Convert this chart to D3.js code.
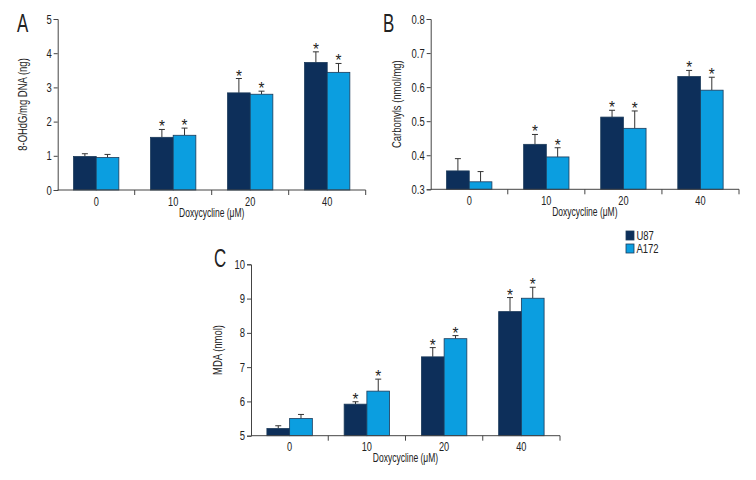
<!DOCTYPE html>
<html><head><meta charset="utf-8">
<script src="https://cdn.jsdelivr.net/npm/d3@7"></script>
<style>
body{margin:0;background:#fff;}
svg text{font-family:"Liberation Sans",Arial,sans-serif;fill:#222;}
</style></head>
<body><svg id="c" width="756" height="480"></svg>
<script>
const categories = ["0","10","20","40"];
const series = ["U87","A172"];
const colors = ["#0d2f5a","#0b9ee0"];

const aU87 = [0.98, 1.54, 2.84, 3.73];
const aA172 = [0.95, 1.60, 2.80, 3.44];
const aU87Err = [1.06, 1.77, 3.26, 4.04];
const aA172Err = [1.04, 1.81, 2.89, 3.70];

const bU87 = [0.354, 0.432, 0.512, 0.631];
const bA172 = [0.322, 0.395, 0.479, 0.591];
const bU87Err = [0.390, 0.461, 0.532, 0.649];
const bA172Err = [0.352, 0.422, 0.530, 0.629];

const cU87 = [5.21, 5.92, 7.30, 8.62];
const cA172 = [5.50, 6.30, 7.83, 9.01];
const cU87Err = [5.29, 5.99, 7.57, 9.03];
const cA172Err = [5.62, 6.65, 7.92, 9.33];

const aTicks = [0,1,2,3,4,5];
const bTicks = [0.3,0.4,0.5,0.6,0.7,0.8];
const cTicks = [5,6,7,8,9,10];

const SX = 0.74, FS = 12.8;
const svg = d3.select("#c");

function txt(parent, x, y, str, size, anchor, rot, sx){
  return parent.append("text")
    .attr("transform", `translate(${x},${y})` + (rot ? ` rotate(${rot})` : "") + ` scale(${sx || SX},1)`)
    .attr("text-anchor", anchor || "start").attr("font-size", size).text(str);
}

function panel(o){
  const g = svg.append("g");
  const x = d3.scaleBand().domain(categories).range([o.x0,o.x1]).paddingInner(0).paddingOuter(0);
  const xs = d3.scaleBand().domain(series).range([0,x.bandwidth()]).paddingInner(0).paddingOuter(0.7);
  const y = d3.scaleLinear().domain(o.domain).range([o.yb,o.yt]);
  const vals = [o.u, o.a], errs = [o.ue, o.ae];
  series.forEach((s,si)=>{
    categories.forEach((c,ci)=>{
      const bx = x(c)+xs(s), bw = xs.bandwidth();
      const cx = bx+bw/2;
      g.append("line").attr("x1",cx).attr("x2",cx).attr("y1",y(vals[si][ci])).attr("y2",y(errs[si][ci]))
        .attr("stroke","#333").attr("stroke-width",1);
      g.append("line").attr("x1",cx-3).attr("x2",cx+3).attr("y1",y(errs[si][ci])).attr("y2",y(errs[si][ci]))
        .attr("stroke","#333").attr("stroke-width",1);
      g.append("rect").attr("x",bx).attr("y",y(vals[si][ci])).attr("width",bw)
        .attr("height",y(o.domain[0])-y(vals[si][ci])).attr("fill",colors[si])
        .attr("stroke","#1b3a5a").attr("stroke-width",0.8);
      if(o.stars[si][ci]){
        g.append("text").attr("transform",`translate(${cx},${y(errs[si][ci])+3}) scale(0.9,1)`)
          .attr("text-anchor","middle").attr("font-size",17).attr("fill","#333").text("*");
      }
    });
  });
  // y axis
  const ya = d3.axisLeft(y).tickValues(o.ticks).tickSize(4).tickPadding(2).tickFormat(o.fmt);
  const yg = g.append("g").attr("transform",`translate(${o.x0},0)`).call(ya);
  yg.select(".domain").attr("stroke","#444");
  yg.selectAll(".tick line").attr("stroke","#444");
  yg.selectAll(".tick text").attr("font-size",FS).attr("fill","#222")
    .style("font-family",'"Liberation Sans",Arial,sans-serif')
    .attr("x",-6/SX).attr("transform",`scale(${SX},1)`);
  // x axis
  const xg = g.append("g").attr("transform",`translate(0,${o.yb})`);
  xg.append("line").attr("x1",o.x0).attr("x2",o.x1).attr("y1",0).attr("y2",0).attr("stroke","#444");
  categories.forEach(c=>{
    const xe = x(c)+x.bandwidth();
    xg.append("line").attr("x1",xe).attr("x2",xe).attr("y1",0).attr("y2",5).attr("stroke","#444");
    txt(xg, x(c)+x.bandwidth()/2, 15.5, c, FS, "middle", 0, 0.72);
  });
  txt(xg, (o.x0+o.x1)/2, 26.5, "Doxycycline (μM)", FS, "middle", 0, 0.665);
  txt(g, o.tx, (o.yt+o.yb)/2, o.title, FS, "middle", -90);
  g.append("text").attr("transform",`translate(${o.lx},${o.ly}) scale(0.65,1)`)
    .attr("font-size",26).text(o.letter);
}

const allStars = [[false,true,true,true],[false,true,true,true]];

panel({x0:57.7,x1:365.7,yt:19,yb:190,domain:[0,5],ticks:aTicks,fmt:d3.format("d"),
  u:aU87,a:aA172,ue:aU87Err,ae:aA172Err,stars:allStars,title:"8-OHdG/mg DNA (ng)",tx:27,letter:"A",lx:17,ly:32});
panel({x0:430.7,x1:739,yt:19,yb:189.3,domain:[0.3,0.8],ticks:bTicks,fmt:d3.format(".1f"),
  u:bU87,a:bA172,ue:bU87Err,ae:bA172Err,stars:allStars,title:"Carbonyls (nmol/mg)",tx:400.5,letter:"B",lx:383,ly:32});
panel({x0:251,x1:560,yt:264.3,yb:435.7,domain:[5,10],ticks:cTicks,fmt:d3.format("d"),
  u:cU87,a:cA172,ue:cU87Err,ae:cA172Err,stars:allStars,title:"MDA (nmol)",tx:222,letter:"C",lx:214,ly:267});

// legend
const lg = svg.append("g").attr("transform","translate(626,231)");
series.forEach((s,i)=>{
  lg.append("rect").attr("x",0).attr("y",i*13).attr("width",8).attr("height",9)
    .attr("fill",colors[i]).attr("stroke","#1b3a5a").attr("stroke-width",0.8);
  txt(lg, 10.5, i*13+9, s, FS, "start");
});
</script></body></html>
